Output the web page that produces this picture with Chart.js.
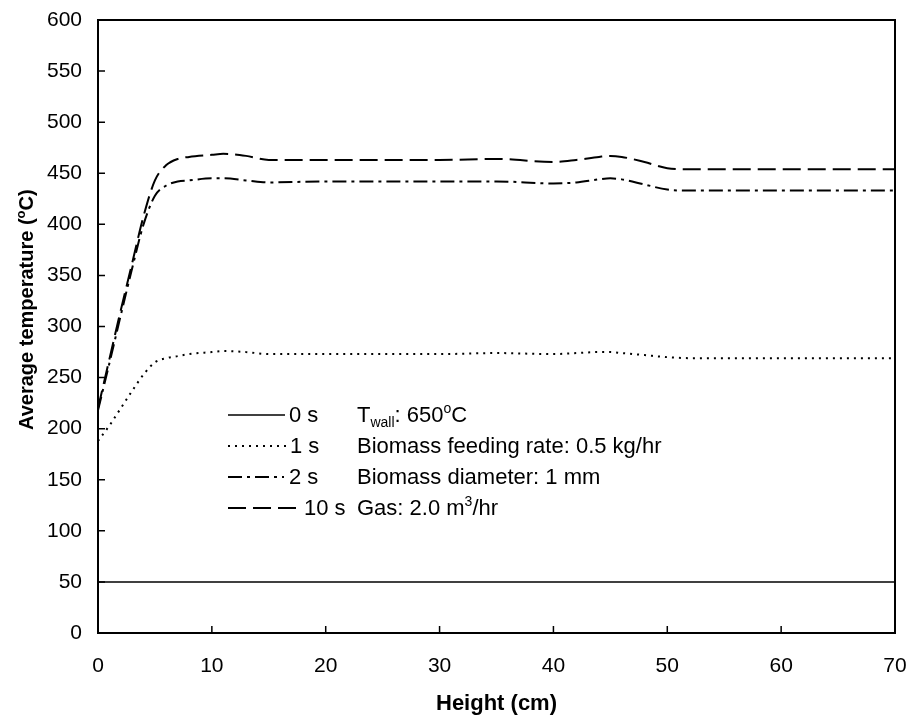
<!DOCTYPE html>
<html><head><meta charset="utf-8">
<script src="https://cdn.jsdelivr.net/npm/chart.js@4"></script>
<style>html,body{margin:0;padding:0;background:#fff}</style>
</head><body>
<canvas id="c" width="910" height="719"></canvas>
<script>
// ---- data ----
const heights = [0,1,2,3,4,5,6,7,8,10,11,13,15,20,25,30,35,40,42,44,45,46,48,50,52,55,60,65,70];
const temp0s  = [50,50,50,50,50,50,50,50,50,50,50,50,50,50,50,50,50,50,50,50,50,50,50,50,50,50,50,50,50];
const temp1s  = [188,203,220,237,253,265,269,271,273,275,276,275,273,273,273,273,274,273,274,275,275,274,272,270,269,269,269,269,269];
const temp2s  = [218,264,311,357,400,428,438,442,443,445,445,443,441,442,442,442,442,440,441,444,445,444,439,434,433,433,433,433,433];
const temp10s = [220,268,316,362,408,443,458,464,466,468,469,467,463,463,463,463,464,461,463,466,467,466,461,455,454,454,454,454,454];
const xTicks = [0,10,20,30,40,50,60,70];
const yTicks = [0,50,100,150,200,250,300,350,400,450,500,550,600];
const seriesLabels = ['0 s','1 s','2 s','10 s'];
const xTitle = 'Height (cm)';

// ---- styles ----
const FONT = "'Liberation Sans', Arial, Helvetica, sans-serif";
const dashes = [[], [2,5], [14,5,3,5], [18,7]];
const seriesData = [temp0s, temp1s, temp2s, temp10s];

const datasets = seriesData.map((arr, k) => ({
  label: seriesLabels[k],
  data: heights.map((h, i) => ({x: h, y: arr[i]})),
  borderColor: '#000',
  borderWidth: k === 0 ? 1.5 : 2,
  borderDash: dashes[k],
  pointRadius: 0,
  fill: false,
  cubicInterpolationMode: 'monotone'
}));

function drawRuns(ctx, x, y, runs) {
  let cx = x;
  for (const r of runs) {
    ctx.font = (r.bold ? 'bold ' : '') + r.size + 'px ' + FONT;
    ctx.fillText(r.t, cx, y + (r.dy || 0));
    cx += ctx.measureText(r.t).width;
  }
  return cx;
}

const decor = {
  id: 'decor',
  afterDraw(chart) {
    const ctx = chart.ctx;
    const a = chart.chartArea;
    const xs = chart.scales.x, ys = chart.scales.y;
    ctx.save();
    ctx.strokeStyle = '#000';
    ctx.fillStyle = '#000';
    // top & right frame
    ctx.lineWidth = 2;
    ctx.setLineDash([]);
    ctx.beginPath();
    ctx.moveTo(a.left, a.top); ctx.lineTo(a.right, a.top); ctx.lineTo(a.right, a.bottom);
    ctx.stroke();
    // inward ticks
    ctx.lineWidth = 1.5;
    ctx.beginPath();
    for (const v of xTicks) {
      const px = xs.getPixelForValue(v);
      ctx.moveTo(px, a.bottom); ctx.lineTo(px, a.bottom - 7);
    }
    for (const v of yTicks) {
      const py = ys.getPixelForValue(v);
      ctx.moveTo(a.left, py); ctx.lineTo(a.left + 7, py);
    }
    ctx.stroke();

    // legend
    const items = [
      {x1: 228, x2: 285, tx: 289},
      {x1: 228, x2: 287, tx: 290},
      {x1: 228, x2: 284, tx: 289},
      {x1: 228, x2: 300, tx: 304}
    ];
    const base0 = 422, step = 31;
    ctx.textBaseline = 'alphabetic';
    ctx.textAlign = 'left';
    items.forEach((it, k) => {
      const by = base0 + k * step;
      ctx.lineWidth = k === 0 ? 1.5 : 2;
      ctx.setLineDash(dashes[k]);
      ctx.beginPath();
      ctx.moveTo(it.x1, by - 7); ctx.lineTo(it.x2, by - 7);
      ctx.stroke();
      ctx.setLineDash([]);
      ctx.font = '22px ' + FONT;
      ctx.fillText(seriesLabels[k], it.tx, by);
    });
    const cx = 357;
    drawRuns(ctx, cx, base0, [
      {t: 'T', size: 22}, {t: 'wall', size: 14, dy: 5}, {t: ': 650', size: 22},
      {t: 'o', size: 14, dy: -9}, {t: 'C', size: 22}
    ]);
    drawRuns(ctx, cx, base0 + step, [{t: 'Biomass feeding rate: 0.5 kg/hr', size: 22}]);
    drawRuns(ctx, cx, base0 + 2 * step, [{t: 'Biomass diameter: 1 mm', size: 22}]);
    drawRuns(ctx, cx, base0 + 3 * step, [
      {t: 'Gas: 2.0 m', size: 22}, {t: '3', size: 14, dy: -9}, {t: '/hr', size: 22}
    ]);

    // y axis title
    ctx.save();
    ctx.translate(33, 430);
    ctx.rotate(-Math.PI / 2);
    drawRuns(ctx, 0, 0, [
      {t: 'Average temperature (', size: 20, bold: true},
      {t: 'o', size: 13, bold: true, dy: -8},
      {t: 'C)', size: 20, bold: true}
    ]);
    ctx.restore();
    ctx.restore();
  }
};

new Chart(document.getElementById('c'), {
  type: 'line',
  data: {datasets},
  options: {
    responsive: false,
    animation: false,
    events: [],
    layout: {padding: {top: 20, right: 15, bottom: 0, left: 0}},
    plugins: {legend: {display: false}, tooltip: {enabled: false}},
    scales: {
      x: {
        type: 'linear', min: 0, max: 70,
        afterBuildTicks: s => { s.ticks = xTicks.map(v => ({value: v})); },
        afterFit: s => { s.height = 86; s.paddingLeft = 0; s.paddingRight = 0; },
        ticks: {font: {family: FONT, size: 21}, color: '#000', padding: 21, maxRotation: 0, autoSkip: false},
        grid: {display: false, drawTicks: false},
        border: {display: true, color: '#000', width: 2},
        title: {display: true, text: xTitle, color: '#000', font: {family: FONT, size: 22, weight: 'bold'}, padding: {top: 0, bottom: 2}}
      },
      y: {
        type: 'linear', min: 0, max: 600,
        afterBuildTicks: s => { s.ticks = yTicks.map(v => ({value: v})); },
        afterFit: s => { s.width = 98; s.paddingTop = 0; s.paddingBottom = 0; },
        ticks: {font: {family: FONT, size: 21}, color: '#000', padding: 16, autoSkip: false},
        grid: {display: false, drawTicks: false},
        border: {display: true, color: '#000', width: 2}
      }
    }
  },
  plugins: [decor]
});
</script>
</body></html>
